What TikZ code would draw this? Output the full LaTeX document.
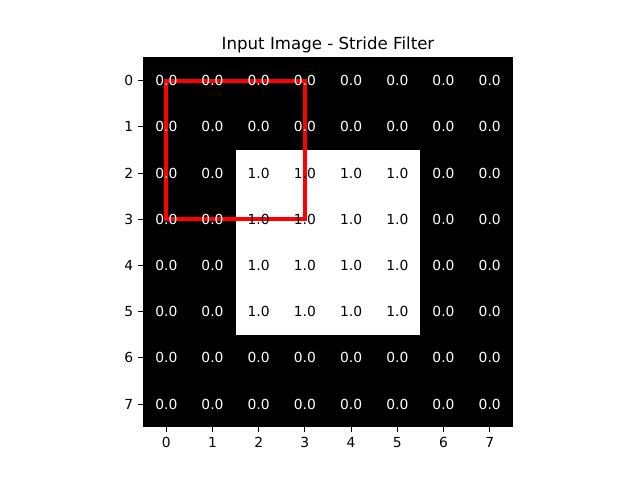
\documentclass[tikz,border=0pt]{standalone}
\usepackage{fontspec}
\setmainfont{DejaVu Sans}
\begin{document}
\begin{tikzpicture}[x=0.01in,y=-0.01in,
  val/.style={inner sep=0pt,font=\fontsize{10}{12}\selectfont},
  ticklab/.style={inner sep=0pt,font=\fontsize{10}{12}\selectfont,text=black},
  tickmark/.style={line width=0.8pt,black},
  filterbox/.style={draw=red,line width=3pt,line join=miter}]
\useasboundingbox (0,0) rectangle (640,480);
% axes area
\node[fill=black,inner sep=0pt,minimum width=369.6*0.72pt,minimum height=369.6*0.72pt,anchor=north west] (ax) at (143.2,57.6) {};
% white region rows/cols 2-5
\fill[white] ({143.2+46.2*2},{57.6+46.2*2}) rectangle ({143.2+46.2*6},{57.6+46.2*6});
% cell centres
\foreach \i in {0,...,7}{
  \foreach \j in {0,...,7}{
    \coordinate (p-\i-\j) at ({166.3+46.2*\i},{80.7+46.2*\j});
  }
}
% red filter box
\draw[filterbox] (p-0-0) rectangle (p-3-3);
% cell values
\foreach \i in {0,...,7}{
  \foreach \j in {0,...,7}{
    \pgfmathtruncatemacro{\inside}{(\i>1)&&(\i<6)&&(\j>1)&&(\j<6)}
    \ifnum\inside=1
      \node[val,text=black] (c-\i-\j) at (p-\i-\j) {1.0};
    \else
      \node[val,text=white] (c-\i-\j) at (p-\i-\j) {0.0};
    \fi
  }
}
% ticks and tick labels
\foreach \k in {0,...,7}{
  \coordinate (xt-\k) at ({166.3+46.2*\k},427.2);
  \coordinate (yt-\k) at (143.2,{80.7+46.2*\k});
  \draw[tickmark] (xt-\k) -- ++(0,4.86) coordinate (xe-\k);
  \node[ticklab,anchor=north] (xl-\k) at ([yshift=-4.86*0.72pt]xe-\k) {\k};
  \draw[tickmark] (yt-\k) -- ++(-4.86,0) coordinate (ye-\k);
  \node[ticklab,anchor=east] (yl-\k) at ([xshift=-4.86*0.72pt]ye-\k) {\k};
}
% spines
\draw[line width=0.8pt,black] (ax.north west) rectangle (ax.south east);
% title
\node[inner sep=0pt,anchor=base,font=\fontsize{12}{14}\selectfont] (title) at (328,49.3) {Input Image - Stride Filter};
\end{tikzpicture}
\end{document}
